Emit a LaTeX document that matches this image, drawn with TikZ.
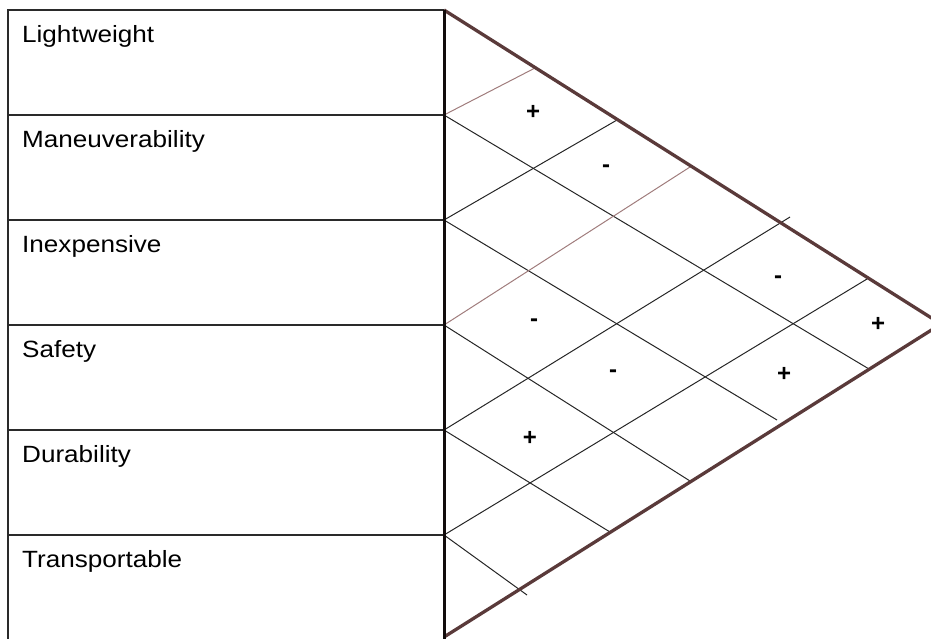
\documentclass[tikz,border=0pt]{standalone}
\usepackage{fontspec}
\setmainfont{Liberation Sans}
\usepackage{graphicx}
\definecolor{edgebrown}{HTML}{5A3A3A}
\definecolor{thinbrown}{HTML}{A07C7C}
\definecolor{boxline}{HTML}{2A2A2A}
\tikzset{
  boxstroke/.style={draw=boxline, line width=1.9pt},
  roofedge/.style={draw=edgebrown, line width=3.3pt, line cap=butt},
  gridline/.style={draw=black!85, line width=1pt},
  browngrid/.style={draw=thinbrown, line width=1pt},
  attr/.style={anchor=base west, inner sep=0pt, font=\fontsize{23.5}{28}\selectfont},
  sign/.style={anchor=center, inner sep=0pt, font=\fontsize{24}{28}\selectfont\bfseries}
}
\newcommand{\wide}[1]{\scalebox{1.11}[1]{#1}}
\begin{document}
\begin{tikzpicture}[x=1pt,y=-1pt]
\useasboundingbox (0,0) rectangle (931,638);
% left boundary points
\coordinate (T0) at (444,10);
\coordinate (L1) at (444,115);
\coordinate (L2) at (444,220);
\coordinate (L3) at (444,325);
\coordinate (L4) at (444,430);
\coordinate (L5) at (444,535);
\coordinate (B0) at (444,637);
\coordinate (Apex) at (941,324);
% attribute box
\coordinate (X0) at (8,10);
\coordinate (X1) at (8,115);
\coordinate (X2) at (8,220);
\coordinate (X3) at (8,325);
\coordinate (X4) at (8,430);
\coordinate (X5) at (8,535);
\coordinate (X6) at (8,640);
\draw[boxstroke] (X6) -- (X0) -- (T0);
\foreach \i in {1,...,5} \draw[boxstroke] (X\i) -- (L\i);
% grid: down-right lines
\coordinate (D1) at (869,369);
\coordinate (D2) at (777,420);
\coordinate (D3) at (690,481);
\coordinate (D4) at (610,532);
\coordinate (D5) at (527,595);
\foreach \i in {1,...,5} \draw[gridline] (L\i) -- (D\i);
% grid: up-right lines
\coordinate (U1) at (535,68);
\coordinate (U2) at (617,120);
\coordinate (U3) at (690,167);
\coordinate (U4) at (790,217);
\coordinate (U5) at (867,279);
\draw[browngrid] (L1) -- (U1);
\draw[gridline] (L2) -- (U2);
\draw[browngrid] (L3) -- (U3);
\draw[gridline] (L4) -- (U4);
\draw[gridline] (L5) -- (U5);
% roof triangle
\draw[roofedge] (T0) -- (Apex) -- (B0);
\draw[draw=black!80!edgebrown, line width=3pt] (444,10) -- (444,640);
% labels
\node[attr] (a1) at (22,42) {\wide{Lightweight}};
\node[attr] (a2) at (22,147) {\wide{Maneuverability}};
\node[attr] (a3) at (22,252) {\wide{Inexpensive}};
\node[attr] (a4) at (22,357) {\wide{Safety}};
\node[attr] (a5) at (22,462) {\wide{Durability}};
\node[attr] (a6) at (22,567) {\wide{Transportable}};
% correlation signs
\node[sign] (s1) at (533,112) {+};
\node[sign] (s2) at (606,169) {-};
\node[sign] (s3) at (778,280) {-};
\node[sign] (s4) at (878,324) {+};
\node[sign] (s5) at (534,323) {-};
\node[sign] (s6) at (613,374) {-};
\node[sign] (s7) at (784,374) {+};
\node[sign] (s8) at (530,438) {+};
\end{tikzpicture}
\end{document}
